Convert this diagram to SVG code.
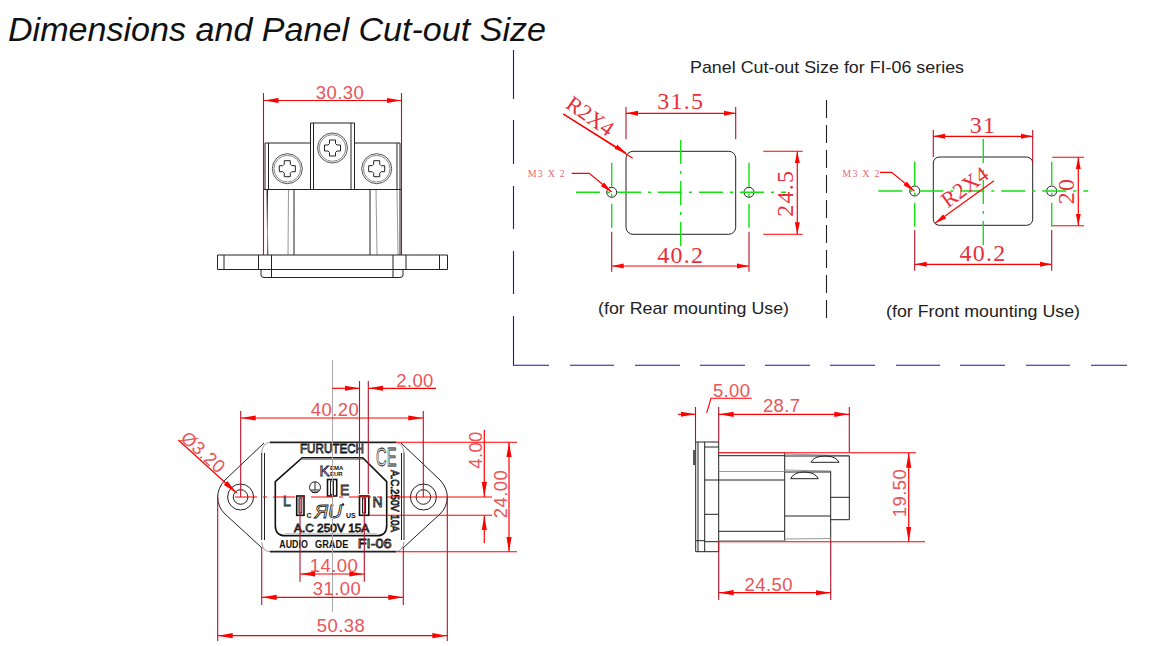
<svg xmlns="http://www.w3.org/2000/svg" width="1151" height="646" viewBox="0 0 1151 646">
<style>
text{font-family:"Liberation Sans",Arial,sans-serif}
.k{fill:none;stroke:#222;stroke-width:1}
.kb{fill:none;stroke:#111;stroke-width:1.6}
.g{fill:none;stroke:#999;stroke-width:1}
.e{fill:none;stroke:#b8102a;stroke-width:1.1}
.d{fill:none;stroke:#f00;stroke-width:1.2;marker-start:url(#a);marker-end:url(#a)}
.d1{fill:none;stroke:#f00;stroke-width:1.2;marker-end:url(#a)}
.ds{fill:none;stroke:#f00;stroke-width:1.2;marker-start:url(#b);marker-end:url(#b)}
.d2{fill:none;stroke:#f00;stroke-width:1.2;marker-end:url(#b)}
.l{fill:none;stroke:#f00;stroke-width:1.1}
.c{fill:none;stroke:#14e014;stroke-width:1.4;stroke-dasharray:24 7 3 7}
.h{fill:none;stroke:#222;stroke-width:1}
.t{font-size:18.5px;fill:#ea5558;text-anchor:middle;letter-spacing:.4px}
.s{font-family:"Liberation Serif",serif;font-size:24px;fill:#e8303a;text-anchor:middle;letter-spacing:1.2px}
.r{font-family:"Liberation Serif",serif;font-size:22px;fill:#e8303a;text-anchor:middle}
.m{font-family:"Liberation Serif",serif;font-size:10px;fill:#e86a70;letter-spacing:1.2px}
.n{font-size:17px;fill:#222}
.o{fill:#fff;stroke:#111;stroke-width:.8}
.b{font-weight:bold;fill:#111}
</style>
<defs>
<marker id="a" viewBox="-15 -3 15 6" refX="0" refY="0" markerUnits="userSpaceOnUse" markerWidth="15" markerHeight="6" orient="auto-start-reverse"><path d="M0,0 L-15,-2.6 L-15,2.6 Z" fill="#f00"/></marker>
<marker id="b" viewBox="-12 -3 12 6" refX="0" refY="0" markerUnits="userSpaceOnUse" markerWidth="12" markerHeight="6" orient="auto-start-reverse"><path d="M0,0 L-12,-2.5 L-12,2.5 Z" fill="#f00"/></marker>
<g id="screw">
<circle r="15" fill="none" stroke="#555" stroke-width="1"/>
<circle r="13.3" fill="none" stroke="#888" stroke-width="1"/>
<path d="M-3,-8 H3 V-4.5 L4.5,-3 H8 V3 H4.5 L3,4.5 V8 H-3 V4.5 L-4.5,3 H-8 V-3 H-4.5 L-3,-4.5 Z" fill="none" stroke="#222" stroke-width="1"/>
</g>
</defs>

<rect width="1151" height="646" fill="#fff"/>
<text id="title" x="8" y="41" font-size="33" font-style="italic" fill="#111" textLength="538" lengthAdjust="spacingAndGlyphs">Dimensions and Panel Cut-out Size</text>

<g id="panel-frame">
<path d="M513.5,50V99M513.5,120V164M513.5,186V229M513.5,251V294M513.5,316V365.3H549M570,365.3H614M635,365.3H680M700,365.3H745M765,365.3H810M830,365.3H875M896,365.3H940M960,365.3H1005M1026,365.3H1070M1091,365.3H1127" fill="none" stroke="#1515b4" stroke-width="1.1"/>
<path d="M826.5,100V318" fill="none" stroke="#222" stroke-width="1.1" stroke-dasharray="18 7"/>
<text class="n" x="690" y="73" textLength="274" lengthAdjust="spacingAndGlyphs">Panel Cut-out Size for FI-06 series</text>
<text class="n" x="598" y="314" textLength="191" lengthAdjust="spacingAndGlyphs">(for Rear mounting Use)</text>
<text class="n" x="886" y="317" textLength="194" lengthAdjust="spacingAndGlyphs">(for Front mounting Use)</text>
</g>

<g id="top-view">
<path class="k" d="M310.5,189.5V123H354.5V189.5M313.5,123V189M351,123V189M310.5,143H265V189.5M354.5,143H400V189.5M268.5,143V189M397,143V189M264,189.5H402"/>
<path class="k" d="M267.5,190V255M294,190V255M370,190V255M400,190V255"/>
<path class="g" d="M266.5,190L268,255M288.5,190L288,255M376,190L377,255M397,190L398,255"/>
<use href="#screw" x="287.3" y="168.7"/>
<use href="#screw" x="332.5" y="148"/>
<use href="#screw" x="376.7" y="168.7"/>
<path class="k" d="M217.5,255H447.5V269.5H217.5ZM224,255V269.5M258.5,255V269.5M271.5,255V277M393,255V277M406,255V269.5M439.5,255V269.5"/>
<path class="k" d="M261,269.5V275Q261,277.5 264,277.5H400Q403,277.5 403,275V269.5M261,269.5H272M392,269.5H403"/>
</g>

<g id="front-view">
<path class="k" d="M264,443L225,480Q217.7,488 217.7,497Q217.7,507 225,514L262,548M401,443L440,480Q447.3,488 447.3,497Q447.3,507 440,514L403,548"/>
<path d="M270,442.3H396M270,551.7H396" fill="none" stroke="#222" stroke-width="1.8"/>
<path class="g" d="M270,442.3Q262,443 261.7,453M396,442.3Q403,443 404,453M270,551.7Q262,551 261.7,542M396,551.7Q403,551 404,542"/>
<path class="k" d="M261.7,453V540M264.5,453V540M401.5,453V540M404,453V540"/>
<circle class="h" cx="240.6" cy="497" r="13"/>
<circle class="h" cx="240.6" cy="497" r="7.3"/>
<circle class="h" cx="423.4" cy="497" r="13"/>
<circle class="h" cx="423.4" cy="497" r="7.3"/>
<path class="kb" d="M302.3,457.7H362.7L386.7,481.7V525.7Q386.7,535.7 376.7,535.7H285.3Q275.3,535.7 275.3,525.7V481.7Z"/>
<path class="g" d="M302,459.5H363M285,534H377"/>
<text class="o" x="300" y="453.3" font-size="12" textLength="64" lengthAdjust="spacingAndGlyphs">FURUTECH</text>
<text class="b" x="279.3" y="547.7" font-size="10" textLength="28.5" lengthAdjust="spacingAndGlyphs">AUDIO</text>
<text class="b" x="315" y="547.7" font-size="10" textLength="33.3" lengthAdjust="spacingAndGlyphs">GRADE</text>
<text class="o" x="357.7" y="547.7" font-size="13" textLength="34" lengthAdjust="spacingAndGlyphs">FI-06</text>
<text class="o" x="294" y="531.7" font-size="11" textLength="75.3" lengthAdjust="spacingAndGlyphs">A.C 250V 15A</text>
<text class="o" transform="translate(391,470) rotate(90)" font-size="11" textLength="62" lengthAdjust="spacingAndGlyphs">A.C.250V 10A</text>
<text class="o" x="376" y="466" font-size="25" textLength="20.5" lengthAdjust="spacingAndGlyphs">CE</text>
<text class="o" x="319.5" y="475.7" font-size="15">K</text>
<text class="b" x="330" y="469.7" font-size="6">EMA</text>
<text class="b" x="330" y="475.7" font-size="6">EUR</text>
<circle class="k" cx="315" cy="487.3" r="5.5"/>
<path class="k" d="M315,482V490M310.5,490H319.5M312,492H318"/>
<rect class="kb" x="327.5" y="479.5" width="9.2" height="16.5"/>
<rect class="k" x="330.5" y="481" width="3" height="13.5"/>
<text class="o" x="340" y="495" font-size="14">E</text>
<rect class="kb" x="296.7" y="496" width="7.3" height="19.3"/>
<rect class="k" x="299" y="498" width="2.8" height="15"/>
<rect class="kb" x="359.5" y="496" width="9.3" height="19.3"/>
<rect class="k" x="362.5" y="498" width="3" height="15"/>
<text class="o" x="283" y="505.7" font-size="14">L</text>
<text class="o" x="372.5" y="507" font-size="14">N</text>
<text class="b" x="306.5" y="518" font-size="7">C</text>
<text class="b" x="346" y="518" font-size="7">US</text>
<text class="o" x="315" y="518" font-size="18" font-style="italic" textLength="27" lengthAdjust="spacingAndGlyphs">ЯU</text>
<circle cx="343" cy="504.5" r="1.2" fill="#222"/>
</g>

<g id="side-view">
<path class="k" d="M695.7,442H718.7V551.7H695.7ZM704.7,442V551.7M698,442V551.7M704.7,447H718.7M704.7,541.7H718.7M695.7,540.7H704.7M704.7,480H718.7M704.7,514.3H718.7"/>
<path d="M694,450V465" fill="none" stroke="#222" stroke-width="1.5"/>
<path class="k" d="M718.7,455.7H784.7M718.7,480H784.7M718.7,531.3H784.7M784.7,452.7V541M784.7,516H830.7M830.7,471V540M830.7,497.3H849.3M849.3,455.7V519.7H830.7"/>
<path class="g" d="M718.7,452.7H784.7M718.7,471.5H784.7M718.7,540.7H784.7M784.7,454L849.3,455.7M784.7,470L830.7,471M784.7,539L830.7,538.5"/>
<path class="k" d="M784.7,456L849.3,456M784.7,472H830.7"/>
<path class="k" d="M811,462.3Q814,456 825,456Q836,456 839,462.3ZM790.7,478.7Q794,472 804,472Q815,472 818.3,478.7Z" stroke="#555"/>
</g>

<g id="rear-cutout">
<rect class="h" x="626" y="151.3" width="109.7" height="83" rx="7"/>
<circle cx="611.7" cy="192.3" r="5" fill="none" stroke="#222"/>
<circle cx="749" cy="192.3" r="5" fill="none" stroke="#222"/>
<path class="c" d="M576,192.3H786M680.7,140V247M611.7,162.7V231.7M749,162.7V231.7"/>
</g>
<g id="front-cutout">
<rect class="h" x="933.3" y="157" width="99.4" height="68.3" rx="6"/>
<circle cx="914.7" cy="191" r="5" fill="none" stroke="#222"/>
<circle cx="1051.7" cy="191" r="5" fill="none" stroke="#222"/>
<path class="c" d="M878.3,191H1088.3M983.3,139V245.7M914.7,161.7V230M1051.7,161.7V230"/>
</g>

<g id="connectors">
<path class="e" d="M263.5,93V255M401.5,93V255"/>
<path class="d" d="M263.5,100.5H401.5"/>
<path d="M332.5,360V612" fill="none" stroke="#aaa" stroke-width="1"/>
<path class="e" d="M359.5,381V494M368.3,381V494M240.7,411V497M423.3,411V497M300,497V581.7M364.3,497V581.7M261.7,547V605M403.3,547V605M217.7,497V641M447.3,497V641"/>
<path class="d1" d="M332.3,388.3H359.5"/>
<path class="d1" d="M436,388.3H368.3"/>
<path class="d" d="M240.7,418H423.3"/>
<path d="M235,497H395" fill="none" stroke="#f00" stroke-width="1.1" stroke-dasharray="22 6 4 6"/>
<path class="l" d="M395,497H492M369,515.3H492M395,442.3H517M395,551.7H517"/>
<path class="d1" d="M484.3,430V497"/>
<path class="d1" d="M484.3,543V515.3"/>
<path class="d" d="M509,442.3V551.7"/>
<path class="d" d="M300,574H364.3"/>
<path class="d" d="M261.7,597.3H403.3"/>
<path class="d" d="M217.7,635.7H447.3"/>
<path class="d1" d="M178.3,440L236.7,493"/>
<path class="e" d="M695.5,407V442M718.7,407V442M849.3,407V452M718.7,541V600M830.7,540V600"/>
<path class="d1" d="M678,414.3H695.5"/>
<path class="d" d="M718.7,414.3H849.3"/>
<path class="l" d="M751.7,398.3H711L706.7,413M718,452.7H916M718,541.7H925"/>
<path class="d" d="M908.7,452.7V541.7"/>
<path class="d" d="M718.7,592.7H830.7"/>
<path class="e" d="M626,107V139.3M735.7,107V139.3M611.7,231.7V271.7M749,231.7V271.7"/>
<path class="ds" d="M626,113.3H735.7"/>
<path class="ds" d="M611.7,266H749"/>
<path class="l" d="M763.3,151.3H802.7M763.3,234.3H802.7"/>
<path class="ds" d="M797.3,151.3V234.3"/>
<path class="l" d="M632.7,158.3L563.3,114"/>
<path class="d2" d="M563.3,114L626,153"/>
<path class="d2" d="M571.7,173.3H589.3L611.7,192"/>
<path class="e" d="M933.3,130V157M1032.7,130V163M914.7,230V270.7M1051.7,230V270.7"/>
<path class="ds" d="M933.3,136.3H1032.7"/>
<path class="ds" d="M914.7,264.3H1051.7"/>
<path class="l" d="M1052.3,157.3H1084M1052.3,225.7H1084"/>
<path class="ds" d="M1078.3,157.3V225.7"/>
<path class="d2" d="M994,180.7L935,223.3"/>
<path class="d2" d="M880,172.3H891.7L914.3,191"/>
</g>

<g id="dimension-labels">
<text class="t" x="340" y="99">30.30</text>
<text class="t" x="415" y="387">2.00</text>
<text class="t" x="335" y="416">40.20</text>
<text class="t" transform="translate(482,450) rotate(-90)">4.00</text>
<text class="t" transform="translate(507,494) rotate(-90)">24.00</text>
<text class="t" x="334" y="572">14.00</text>
<text class="t" x="337" y="595">31.00</text>
<text class="t" x="341" y="632">50.38</text>
<text class="t" transform="translate(199,457) rotate(42)">Ø3.20</text>
<text class="t" x="731.7" y="396.7">5.00</text>
<text class="t" x="781.7" y="412">28.7</text>
<text class="t" transform="translate(906,493) rotate(-90)">19.50</text>
<text class="t" x="768.7" y="590.7">24.50</text>
<text class="s" x="680.7" y="109">31.5</text>
<text class="s" x="680.7" y="262.7">40.2</text>
<text class="s" transform="translate(793,193.3) rotate(-90)">24.5</text>
<text class="r" transform="translate(586,122) rotate(35)">R2X4</text>
<text class="m" x="527.7" y="176.7">M3 X 2</text>
<text class="s" x="983" y="133.3">31</text>
<text class="s" x="983" y="260.7">40.2</text>
<text class="s" transform="translate(1074.3,191) rotate(-90)">20</text>
<text class="r" transform="translate(969,193) rotate(-36)">R2X4</text>
<text class="m" x="842.3" y="177">M3 X 2</text>
</g>
</svg>
